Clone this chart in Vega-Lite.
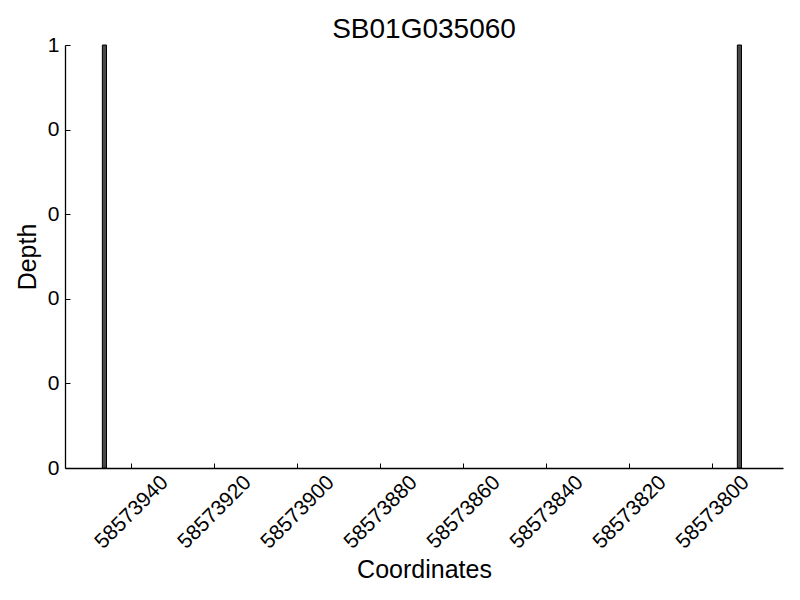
{
  "$schema": "https://vega.github.io/schema/vega-lite/v6.json",
  "width": 718,
  "height": 423,
  "autosize": {"type": "none"},
  "padding": {"left": 65, "top": 45, "right": 17, "bottom": 132},
  "background": "white",
  "config": {
    "view": {"stroke": null},
    "font": "Liberation Sans",
    "axis": {"grid": false, "domainColor": "black", "domainWidth": 1.3, "tickColor": "black", "tickWidth": 1, "labelColor": "black", "titleColor": "black", "titleFontWeight": "normal"}
  },
  "title": {"text": "SB01G035060", "fontSize": 28, "fontWeight": "normal", "font": "Liberation Sans", "color": "black", "anchor": "middle", "baseline": "alphabetic", "offset": 7, "dy": 39},
  "data": {"values": [
    {"start": 58573946, "end": 58573947, "depth": 1},
    {"start": 58573793, "end": 58573794, "depth": 1}
  ]},
  "mark": {"type": "rect", "fill": "#484848", "stroke": "black", "strokeWidth": 1},
  "encoding": {
    "x": {"field": "start", "type": "quantitative",
      "scale": {"domain": [58573783, 58573956], "reverse": true, "nice": false, "zero": false},
      "axis": {"title": "Coordinates", "values": [58573940, 58573920, 58573900, 58573880, 58573860, 58573840, 58573820, 58573800],
        "format": "d", "labelAngle": -45, "labelAlign": "center", "labelBaseline": "middle", "labelFontSize": 21, "tickSize": -5, "labelPadding": 49,
        "labelOverlap": false, "labelFlush": false,
        "titleFontSize": 25, "titleBaseline": "alphabetic", "titleY": 109, "titleX": 359, "titleAnchor": null}},
    "x2": {"field": "end"},
    "y": {"field": "depth", "type": "quantitative",
      "scale": {"domain": [0, 1], "nice": false},
      "axis": {"title": "Depth", "values": [0, 0.2, 0.4, 0.6, 0.8, 1], "labelExpr": "format(floor(datum.value), 'd')",
        "labelFontSize": 21, "tickSize": -5, "labelPadding": 11, "labelFlush": false, "labelOverlap": false,
        "titleFontSize": 25, "titleAngle": -90, "titleAlign": "center", "titleBaseline": "alphabetic", "titleX": -30, "titleY": 211.5}},
    "y2": {"datum": 0}
  }
}
